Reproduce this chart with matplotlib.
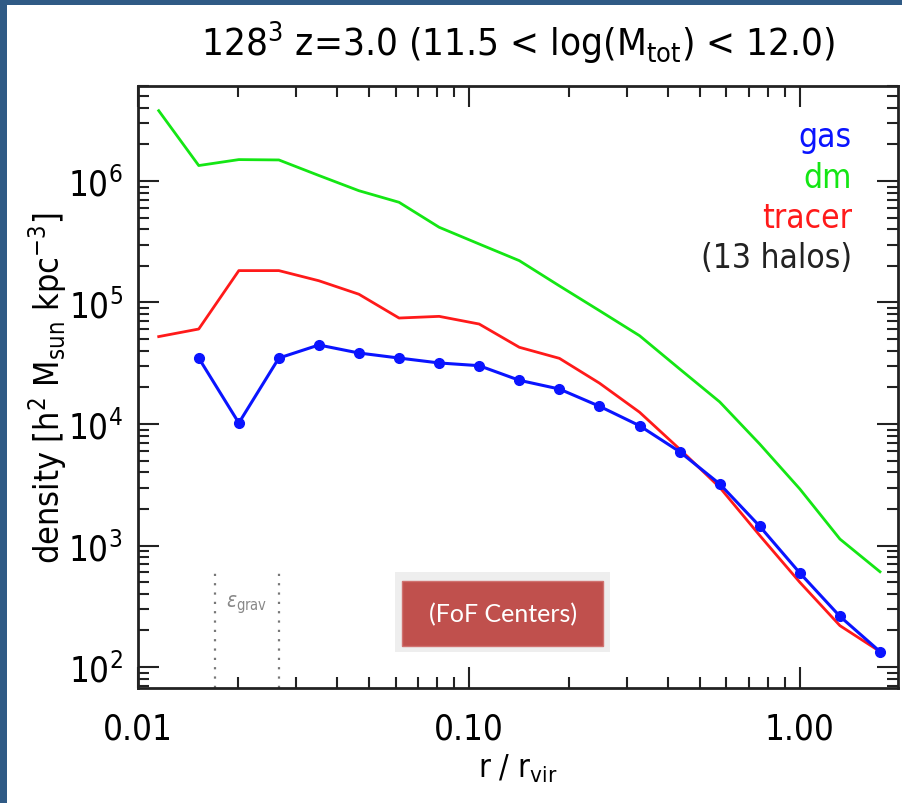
import math
import matplotlib
matplotlib.use("Agg")
import matplotlib.pyplot as plt
from matplotlib import font_manager
from matplotlib.patches import Rectangle
from matplotlib.ticker import FixedLocator, LogLocator, NullFormatter, FuncFormatter

# radial bins (r / r_vir)
radius = [0.01155, 0.01526, 0.02017, 0.02665, 0.0352, 0.0465, 0.0615, 0.0813,
          0.1074, 0.1420, 0.1877, 0.2480, 0.3279, 0.4332, 0.5727, 0.7565,
          1.0, 1.322, 1.747]

# stacked density profiles, h^2 Msun kpc^-3
dm_density = [3.79e6, 1.34e6, 1.50e6, 1.49e6, 1.11e6, 8.32e5, 6.68e5, 4.16e5,
              3.03e5, 2.21e5, 1.37e5, 8.57e4, 5.33e4, 2.84e4, 1.52e4, 6.84e3,
              2.92e3, 1.13e3, 608]
tracer_density = [5.24e4, 6.05e4, 1.83e5, 1.83e5, 1.51e5, 1.17e5, 7.45e4, 7.69e4,
                  6.65e4, 4.28e4, 3.47e4, 2.17e4, 1.25e4, 6.22e3, 3.01e3, 1.21e3,
                  498, 219, 134]
# gas has no value in the innermost bin
gas_radius = radius[1:]
gas_density = [3.49e4, 1.02e4, 3.49e4, 4.47e4, 3.84e4, 3.49e4, 3.18e4, 3.02e4,
               2.29e4, 1.94e4, 1.40e4, 9.68e3, 5.92e3, 3.21e3, 1.44e3, 594,
               261, 134]

eps_grav = [0.01708, 0.02673]
xticks = [0.01, 0.1, 1.0]
yticks = [1e2, 1e3, 1e4, 1e5, 1e6]

# prefer a narrow sans face if the system has one
font, stretch, narrow = "Liberation Sans", "normal", False
for f in font_manager.fontManager.ttflist:
    fn = f.fname.lower()
    if ("narrow" in fn or "condensed" in fn) and "sans" in fn and "bold" not in fn \
            and "oblique" not in fn and "italic" not in fn and "mono" not in fn:
        font, stretch, narrow = f.name, f.stretch, True
        break

# font sizes: (narrow face, fallback)
sz = {"tick": (25, 22), "xlabel": (23, 21), "ylabel": (24.5, 22),
      "title": (27.7, 26), "legend": (24, 22)}
fs = {k: v[0] if narrow else v[1] for k, v in sz.items()}

plt.rcParams["font.family"] = [font, "DejaVu Sans"]
plt.rcParams["font.stretch"] = stretch
plt.rcParams["mathtext.fontset"] = "custom"
plt.rcParams["mathtext.rm"] = "%s:stretch=%s" % (font, stretch)
plt.rcParams["mathtext.it"] = "%s:italic:stretch=%s" % (font, stretch)
plt.rcParams["mathtext.sf"] = "%s:stretch=%s" % (font, stretch)

W, H = 902, 804
fig = plt.figure(figsize=(W / 100, H / 100), dpi=100, facecolor="#2f5a85")
# white slide panel
fig.add_artist(Rectangle((7 / W, 0), 1, 1 - 6 / H, transform=fig.transFigure,
                         facecolor="white", edgecolor="none", zorder=0))

ax = fig.add_axes([138 / W, 1 - 689 / H, 760 / W, 602 / H])
ax.set_facecolor("white")
ax.set_xscale("log")
ax.set_yscale("log")
ax.set_xlim(0.01, 1.98)
ax.set_ylim(67.2, 6.05e6)

ax.plot(radius, dm_density, color="#14e614", lw=2)
ax.plot(radius, tracer_density, color="#ff1a1a", lw=2)
ax.plot(gas_radius, gas_density, color="#0a14ff", lw=2.2, marker="o", ms=7)

for e in eps_grav:
    ax.plot([e, e], [67.2, 641], color="#777777", lw=1.6, ls=(0, (1, 3.2)))
ax.text(math.sqrt(eps_grav[0] * eps_grav[1]), 330, r"$\varepsilon_{\rm grav}$",
        color="#888888", fontsize=15, ha="center", va="center")

ax.xaxis.set_major_locator(FixedLocator(xticks))
ax.xaxis.set_major_formatter(FuncFormatter(lambda v, p: "%.2f" % v))
ax.xaxis.set_minor_locator(LogLocator(base=10, subs=range(2, 10)))
ax.xaxis.set_minor_formatter(NullFormatter())
ax.yaxis.set_major_locator(FixedLocator(yticks))
ax.yaxis.set_major_formatter(FuncFormatter(lambda v, p: r"$10^{%d}$" % round(math.log10(v))))
ax.yaxis.set_minor_locator(LogLocator(base=10, subs=range(2, 10)))
ax.yaxis.set_minor_formatter(NullFormatter())
ax.tick_params(which="both", direction="in", top=True, right=True,
               color="#222222", width=1.5)
ax.tick_params(which="major", length=15, labelsize=fs["tick"])
ax.tick_params(axis="x", which="major", pad=17)
ax.tick_params(axis="y", which="major", pad=11)
ax.tick_params(which="minor", length=8)
for s in ax.spines.values():
    s.set_linewidth(2)
    s.set_color("#222222")

ax.set_xlabel(r"r / r$_{\rm vir}$", fontsize=fs["xlabel"], labelpad=4)
ax.set_ylabel(r"density [h$^2$ M$_{\rm sun}$ kpc$^{-3}$]", fontsize=fs["ylabel"], labelpad=-1)
ax.set_title(r"128$^3$ z=3.0 (11.5 < log(M$_{\rm tot}$) < 12.0)", fontsize=fs["title"], pad=22)

legend_rows = [("gas", "#0a14ff"), ("dm", "#14e614"), ("tracer", "#ff1a1a"),
               ("(13 halos)", "#222222")]
for i, (label, c) in enumerate(legend_rows):
    ax.text(0.939, 0.900 - i * 0.067, label, color=c, fontsize=fs["legend"],
            ha="right", va="baseline", transform=ax.transAxes)

# FoF centers badge
fig.add_artist(Rectangle((395 / W, 1 - 653 / H), 215 / W, 80 / H, transform=fig.transFigure,
                         facecolor="#eeeeee", edgecolor="none", zorder=5))
fig.add_artist(Rectangle((402 / W, 1 - 647 / H), 201 / W, 65 / H, transform=fig.transFigure,
                         facecolor="#c0504d", edgecolor="#d07270", lw=1, zorder=6))
fig.text(503 / W, 1 - 615 / H, "(FoF Centers)", color="white", fontsize=18,
         family=["Lato", "DejaVu Sans"], ha="center", va="center", zorder=7)

fig.savefig("out.png", dpi=100, facecolor=fig.get_facecolor())
